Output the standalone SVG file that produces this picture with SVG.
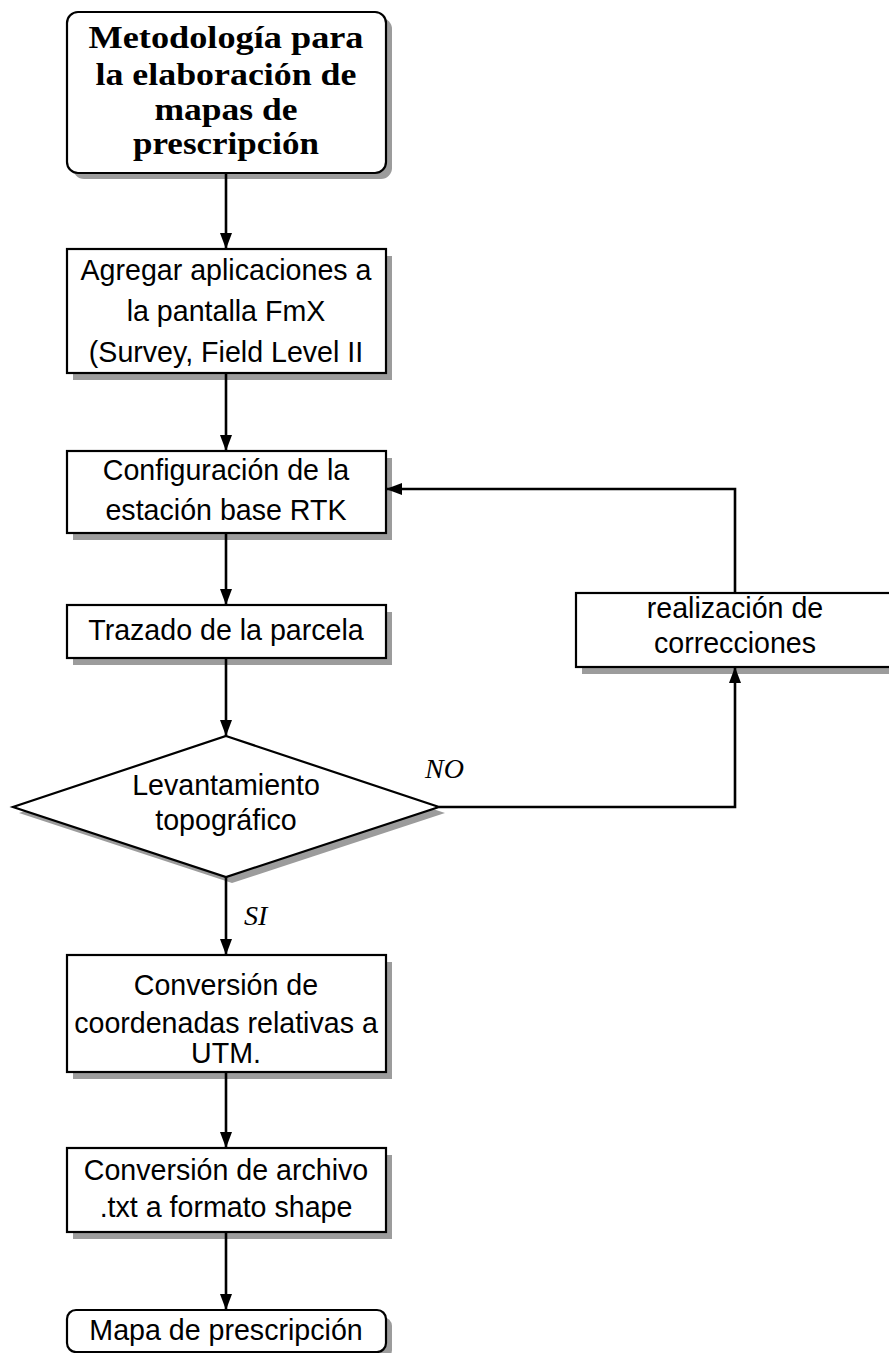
<svg xmlns="http://www.w3.org/2000/svg" width="889" height="1353" viewBox="0 0 889 1353">
<style>
  .box { fill: #ffffff; stroke: #000000; stroke-width: 2.2; }
  .shadow { fill: #9c9c9c; filter: url(#soft); }
  .t { font-family: "Liberation Sans", "DejaVu Sans", sans-serif; font-size: 28.6px; fill: #000; text-anchor: middle; }
  .title { font-family: "Liberation Serif", "DejaVu Serif", serif; font-weight: bold; font-size: 31px; fill: #000; text-anchor: middle; }
  .lbl { font-family: "Liberation Serif", serif; font-style: italic; font-size: 28px; fill: #000; }
  .edge { fill: none; stroke: #000; stroke-width: 2.6; marker-end: url(#arrow); }
</style>
<defs>
  <filter id="soft" x="-5%" y="-5%" width="110%" height="110%">
    <feGaussianBlur stdDeviation="0.6"/>
  </filter>
  <marker id="arrow" viewBox="0 0 16 12" refX="16" refY="6" markerWidth="16" markerHeight="12" markerUnits="userSpaceOnUse" orient="auto">
    <path d="M0,0 L16,6 L0,12 Z" fill="#000"/>
  </marker>
</defs>
<rect width="889" height="1353" fill="#ffffff"/>

<g id="start">
  <rect class="shadow" x="73" y="18" width="319" height="161" rx="11"/>
  <rect class="box" x="67" y="12" width="319" height="161" rx="11"/>
  <text class="title" x="226" y="48" textLength="275" lengthAdjust="spacingAndGlyphs">Metodología para</text>
  <text class="title" x="226" y="85" textLength="261" lengthAdjust="spacingAndGlyphs">la elaboración de</text>
  <text class="title" x="226" y="120" textLength="143" lengthAdjust="spacingAndGlyphs">mapas de</text>
  <text class="title" x="226" y="154" textLength="186" lengthAdjust="spacingAndGlyphs">prescripción</text>
</g>

<g id="apps">
  <rect class="shadow" x="73" y="256" width="319" height="124"/>
  <rect class="box" x="67" y="249" width="319" height="124"/>
  <text class="t" x="226" y="280">Agregar aplicaciones a</text>
  <text class="t" x="226" y="321">la pantalla FmX</text>
  <text class="t" x="226" y="362">(Survey, Field Level II</text>
</g>

<g id="rtk">
  <rect class="shadow" x="73" y="458" width="319" height="82"/>
  <rect class="box" x="67" y="451" width="319" height="82"/>
  <text class="t" x="226" y="480">Configuración de la</text>
  <text class="t" x="226" y="520">estación base RTK</text>
</g>

<g id="trazado">
  <rect class="shadow" x="73" y="612" width="319" height="53"/>
  <rect class="box" x="67" y="605" width="319" height="53"/>
  <text class="t" x="226" y="640">Trazado de la parcela</text>
</g>

<g id="levantamiento">
  <polygon class="shadow" points="232,742 445,813 232,883 19,813"/>
  <polygon class="box" points="226,736 439,807 226,877 13,807"/>
  <text class="t" x="226" y="795">Levantamiento</text>
  <text class="t" x="226" y="830">topográfico</text>
</g>

<g id="correcciones">
  <rect class="shadow" x="582" y="600" width="319" height="74"/>
  <rect class="box" x="576" y="593" width="319" height="74"/>
  <text class="t" x="735" y="618">realización de</text>
  <text class="t" x="735" y="653">correcciones</text>
</g>

<g id="utm">
  <rect class="shadow" x="73" y="962" width="319" height="117"/>
  <rect class="box" x="67" y="955" width="319" height="117"/>
  <text class="t" x="226" y="995">Conversión de</text>
  <text class="t" x="226" y="1033">coordenadas relativas a</text>
  <text class="t" x="226" y="1063">UTM.</text>
</g>

<g id="shape">
  <rect class="shadow" x="73" y="1155" width="319" height="84"/>
  <rect class="box" x="67" y="1148" width="319" height="84"/>
  <text class="t" x="226" y="1180">Conversión de archivo</text>
  <text class="t" x="226" y="1217">.txt a formato shape</text>
</g>

<g id="mapa">
  <rect class="shadow" x="73" y="1317" width="319" height="42" rx="9"/>
  <rect class="box" x="67" y="1310" width="319" height="42" rx="9"/>
  <text class="t" x="226" y="1340">Mapa de prescripción</text>
</g>

<g id="connectors">
  <line class="edge" x1="226" y1="173" x2="226" y2="249"/>
  <line class="edge" x1="226" y1="373" x2="226" y2="451"/>
  <line class="edge" x1="226" y1="533" x2="226" y2="605"/>
  <line class="edge" x1="226" y1="658" x2="226" y2="736"/>
  <line class="edge" x1="226" y1="877" x2="226" y2="955"/>
  <line class="edge" x1="226" y1="1072" x2="226" y2="1148"/>
  <line class="edge" x1="226" y1="1232" x2="226" y2="1310"/>
  <polyline class="edge" points="439,807 735,807 735,667"/>
  <polyline class="edge" points="735,593 735,489 386,489"/>
  <text class="lbl" x="425" y="778">NO</text>
  <text class="lbl" x="244" y="925">SI</text>
</g>
</svg>
